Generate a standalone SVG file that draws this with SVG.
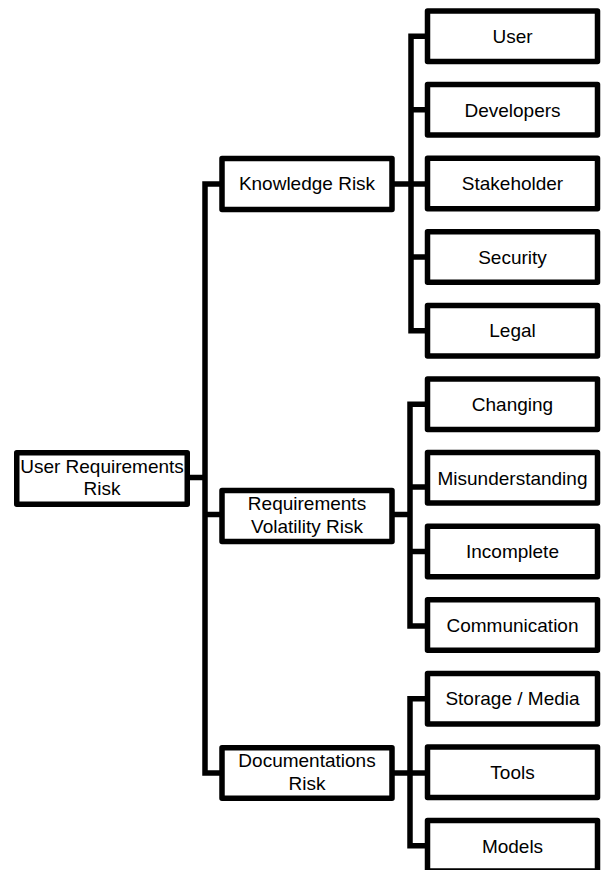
<svg xmlns="http://www.w3.org/2000/svg" width="601" height="870" viewBox="0 0 601 870">
<style>
.box{fill:#fff;stroke:#000;stroke-width:5.5;stroke-linejoin:round}
.t{font-family:"Liberation Sans",Arial,sans-serif;font-size:19px;fill:#000;text-anchor:middle}
.c{fill:none;stroke:#000;stroke-width:5.5;stroke-linejoin:miter}
</style>
<rect width="601" height="870" fill="#fff"/>
<g id="connectors">
<path class="c" d="M187 477.5H205M222 184H205V773H222M205 514.5H222"/>
<path class="c" d="M392 184H427.5M427.5 36.25H411V330.65H427.5M411 109.85H427.5M411 257.05H427.5"/>
<path class="c" d="M392 514.5H410M427.5 404.25H410V626H427.5M410 487H427.5M410 551.45H427.5"/>
<path class="c" d="M392 773H427.5M427.5 698.65H410V845.85H427.5"/>
</g>
<g id="root"><rect class="box" x="16.75" y="452.75" width="170.5" height="51.5"/><text class="t" x="102" y="472.7">User Requirements</text><text class="t" x="102" y="495">Risk</text></g>
<g id="knowledge"><rect class="box" x="222" y="158.5" width="170" height="51"/><text class="t" x="307" y="190">Knowledge Risk</text></g>
<g id="volatility"><rect class="box" x="222" y="490.5" width="170" height="51"/><text class="t" x="307" y="510">Requirements</text><text class="t" x="307" y="532.5">Volatility Risk</text></g>
<g id="documentation"><rect class="box" x="222" y="747.75" width="170" height="50.5"/><text class="t" x="307" y="766.7">Documentations</text><text class="t" x="307" y="790">Risk</text></g>
<g id="user"><rect class="box" x="427.5" y="11" width="170" height="50.5"/><text class="t" x="512.5" y="43">User</text></g>
<g id="developers"><rect class="box" x="427.5" y="84.6" width="170" height="50.5"/><text class="t" x="512.5" y="116.6">Developers</text></g>
<g id="stakeholder"><rect class="box" x="427.5" y="158.2" width="170" height="50.5"/><text class="t" x="512.5" y="190.2">Stakeholder</text></g>
<g id="security"><rect class="box" x="427.5" y="231.8" width="170" height="50.5"/><text class="t" x="512.5" y="263.8">Security</text></g>
<g id="legal"><rect class="box" x="427.5" y="305.4" width="170" height="50.5"/><text class="t" x="512.5" y="337.4">Legal</text></g>
<g id="changing"><rect class="box" x="427.5" y="379" width="170" height="50.5"/><text class="t" x="512.5" y="411">Changing</text></g>
<g id="misunderstanding"><rect class="box" x="427.5" y="452.6" width="170" height="50.5"/><text class="t" x="512.5" y="484.6">Misunderstanding</text></g>
<g id="incomplete"><rect class="box" x="427.5" y="526.2" width="170" height="50.5"/><text class="t" x="512.5" y="558.2">Incomplete</text></g>
<g id="communication"><rect class="box" x="427.5" y="599.8" width="170" height="50.5"/><text class="t" x="512.5" y="631.8">Communication</text></g>
<g id="storage"><rect class="box" x="427.5" y="673.4" width="170" height="50.5"/><text class="t" x="512.5" y="705.4">Storage / Media</text></g>
<g id="tools"><rect class="box" x="427.5" y="747" width="170" height="50.5"/><text class="t" x="512.5" y="779">Tools</text></g>
<g id="models"><rect class="box" x="427.5" y="820.6" width="170" height="50.5"/><text class="t" x="512.5" y="852.6">Models</text></g>
</svg>
